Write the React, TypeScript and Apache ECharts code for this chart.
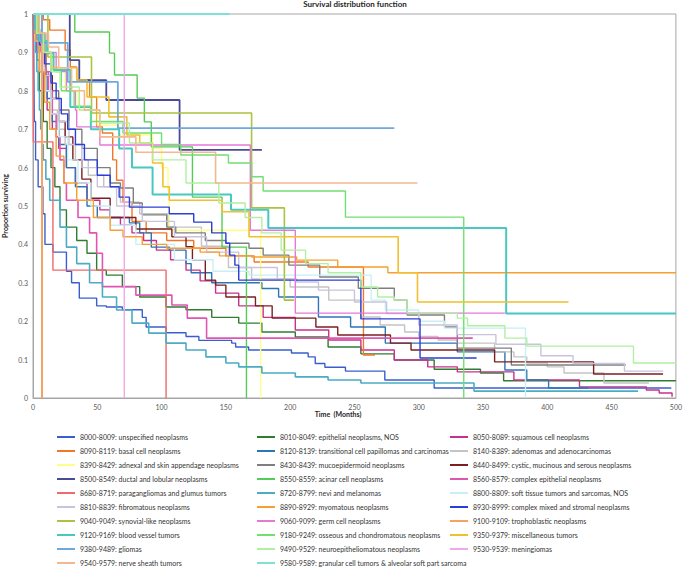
import React, { useEffect, useRef } from "react";
import * as echarts from "echarts";

const legendNames = [
  "8000-8009: unspecified neoplasms", "8010-8049: epithelial neoplasms, NOS", "8050-8089: squamous cell neoplasms",
  "8090-8119: basal cell neoplasms", "8120-8139: transitional cell papillomas and carcinomas", "8140-8389: adenomas and adenocarcinomas",
  "8390-8429: adnexal and skin appendage neoplasms", "8430-8439: mucoepidermoid neoplasms", "8440-8499: cystic, mucinous and serous neoplasms",
  "8500-8549: ductal and lobular neoplasms", "8550-8559: acinar cell neoplasms", "8560-8579: complex epithelial neoplasms",
  "8680-8719: paragangliomas and glumus tumors", "8720-8799: nevi and melanomas", "8800-8809: soft tissue tumors and sarcomas, NOS",
  "8810-8839: fibromatous neoplasms", "8890-8929: myomatous neoplasms", "8930-8999: complex mixed and stromal neoplasms",
  "9040-9049: synovial-like neoplasms", "9060-9099: germ cell neoplasms", "9100-9109: trophoblastic neoplasms",
  "9120-9169: blood vessel tumors", "9180-9249: osseous and chondromatous neoplasms", "9350-9379: miscellaneous tumors",
  "9380-9489: gliomas", "9490-9529: neuroepitheliomatous neoplasms", "9530-9539: meningiomas",
  "9540-9579: nerve sheath tumors", "9580-9589: granular cell tumors & alveolar soft part sarcoma",
];

const xTicks = [0, 50, 100, 150, 200, 250, 300, 350, 400, 450, 500];
const yTicks = [0, 0.1, 0.2, 0.3, 0.4, 0.5, 0.6, 0.7, 0.8, 0.9, 1];

// [time (months), proportion surviving] – Kaplan-Meier steps
const s8000 = [[0,1],[0.5,0.93],[1,0.72],[2,0.62],[4,0.55],[7.7,0.48],[9.3,0.40],[15.5,0.38],[26,0.33],[30,0.30],[36,0.26],[49.5,0.24],[57,0.237],[69.5,0.23],[85,0.21],[88,0.185],[103.5,0.17],[119,0.16],[129,0.15],[154.5,0.143],[157.6,0.133],[167.7,0.125],[201,0.117],[214,0.107],[219.5,0.09],[227,0.08],[243,0.07],[273.6,0.047],[312,0.026],[496,0.024]];
const s8010 = [[0,1],[1,0.95],[3,0.88],[5,0.8],[8,0.72],[11,0.65],[14,0.6],[17,0.55],[21,0.49],[26,0.445],[34,0.41],[42,0.377],[49.5,0.333],[57,0.32],[69.5,0.29],[83,0.263],[103.5,0.237],[119,0.23],[139,0.21],[160,0.195],[178,0.172],[204,0.159],[229.5,0.133],[255,0.115],[281,0.099],[312,0.075],[348,0.065],[366,0.045],[500,0.045]];
const s8050 = [[0,1],[1,0.95],[3,0.9],[5,0.85],[8,0.8],[11,0.75],[15,0.7],[20,0.65],[26,0.6],[33,0.56],[42,0.515],[52,0.49],[60,0.47],[68,0.45],[77,0.43],[86,0.41],[96,0.385],[107,0.36],[119,0.333],[130,0.305],[142,0.273],[160,0.24],[179,0.21],[204,0.177],[230,0.151],[255,0.125],[281,0.099],[307,0.081],[330,0.068],[374,0.047],[425,0.029],[477,0.021],[487,0.013],[497,0.003]];
const s8090 = [[0,1],[8,0.985],[13,0.958],[25,0.906],[29,0.862],[34,0.828],[44,0.784],[49.5,0.706],[54,0.69],[62,0.62],[65,0.567],[70,0.51],[77,0.46],[88,0.43],[104,0.41],[125,0.39],[150,0.37],[172,0.354],[214,0.341],[257,0.112],[266,0.112]];
const s8120 = [[0,1],[2,0.95],[4,0.9],[7,0.84],[11,0.78],[15,0.72],[20,0.66],[26,0.6],[33,0.55],[42,0.5],[50,0.47],[75,0.456],[83,0.43],[92,0.393],[106,0.385],[119,0.35],[123,0.326],[139,0.3],[178,0.285],[191,0.263],[222,0.211],[247,0.185],[274,0.143],[330,0.12],[367,0.073],[384,0.047],[401,0.026],[432,0.026]];
const s8140 = [[0,1],[2,0.95],[4,0.9],[7,0.85],[10,0.8],[14,0.75],[19,0.7],[25,0.66],[33,0.62],[43,0.58],[55,0.55],[68,0.51],[83,0.48],[105,0.445],[131,0.395],[152,0.34],[170,0.31],[200,0.289],[230,0.255],[255,0.211],[270,0.19],[289,0.172],[300,0.16],[315,0.151],[330,0.143],[359,0.12],[374,0.107],[384,0.091],[400,0.081],[413,0.065],[444,0.039],[479,0.039]];
const s8390 = [[0,1],[3,0.95],[8,0.9],[15,0.85],[25,0.8],[35,0.75],[50,0.71],[67,0.685],[93,0.65],[100,0.6],[105,0.54],[106,0.437],[177,0]];
const s8430 = [[0,1],[2,0.95],[5,0.9],[9,0.85],[14,0.8],[20,0.75],[28,0.7],[38,0.65],[50,0.6],[60,0.56],[68,0.547],[78,0.508],[85,0.477],[104,0.445],[111,0.43],[134,0.41],[150,0.403],[168,0.39],[179,0.372],[199,0.346],[223,0.315],[253,0.286],[281,0.255],[291,0.216],[320,0.185],[330,0.13],[372,0.086],[461,0.086]];
const s8440 = [[0,1],[2,0.95],[5,0.9],[10,0.84],[15,0.78],[20,0.72],[25,0.68],[31,0.62],[38,0.57],[45,0.52],[60,0.47],[80,0.44],[108,0.42],[119,0.394],[124,0.36],[134,0.307],[142,0.294],[150,0.263],[173,0.24],[186,0.208],[220,0.185],[237,0.164],[278,0.143],[294,0.125],[359,0.094],[436,0.0625],[490,0.0625]];
const s8500 = [[0,1],[28.6,0.88],[36,0.828],[57,0.776],[114,0.646],[178,0.646]];
const s8550 = [[0,1],[32.5,0.953],[59.5,0.898],[63.4,0.841],[81,0.781],[86.6,0.719],[92,0.654],[124,0.523],[147,0.393],[166,0]];
const s8560 = [[0,1],[3,0.95],[6,0.9],[9,0.85],[12,0.8],[15,0.74],[18,0.68],[21,0.62],[24,0.56],[26,0.515],[35,0.47],[44,0.43],[49.5,0.377],[54,0.29],[80,0.268],[108,0.242],[120,0.208],[135,0.156],[342,0.156]];
const s8680 = [[0,1],[0.3,0.667],[15.5,0.333],[103.5,0]];
const s8720 = [[0,1],[1,0.95],[2,0.9],[3,0.85],[4,0.8],[5,0.75],[6,0.7],[7,0.66],[8,0.62],[10,0.57],[13,0.515],[21,0.445],[26,0.393],[34,0.35],[44,0.3],[54,0.263],[65,0.229],[77,0.195],[90,0.169],[103.5,0.143],[119,0.125],[134.5,0.107],[150,0.091],[160,0.081],[178,0.065],[204,0.055],[229.5,0.047],[255,0.039],[343,0.018],[470.6,0.018]];
const s8800 = [[0,1],[2,0.93],[5,0.86],[9,0.8],[14,0.74],[20,0.68],[27,0.62],[35,0.56],[45,0.5],[60,0.45],[80,0.4],[110,0.36],[140,0.33],[168,0.32],[263,0.255],[274,0.229],[300,0.2],[320,0.182],[383,0]];
const s8810 = [[0,1],[2,0.95],[5,0.9],[9,0.84],[14,0.78],[20,0.72],[28,0.66],[38,0.6],[50,0.55],[65,0.5],[85,0.46],[110,0.42],[135,0.38],[160,0.34],[190,0.31],[205,0.302],[222,0.281],[250,0.25],[275,0.22],[300,0.19],[330,0.165],[360,0.14],[395,0.11],[420,0.09],[460,0.07],[490,0.07]];
const s8890 = [[0,1],[2,0.93],[5,0.85],[9,0.77],[13,0.7],[18,0.63],[24,0.56],[34,0.515],[47,0.47],[60,0.437],[70,0.42],[85,0.40],[104,0.39],[130,0.38],[145,0.37],[170,0.367],[205,0.359],[237,0.341],[276,0.326],[500,0.326]];
const s8930 = [[0,1],[2,0.96],[5,0.92],[9,0.87],[14,0.82],[18,0.78],[22,0.74],[27,0.7],[33,0.66],[40,0.62],[50,0.58],[60,0.55],[67,0.523],[75,0.497],[106,0.48],[125,0.458],[139,0.43],[150,0.403],[153,0.372],[157,0.346],[160,0.307],[255,0.206],[301,0.104],[345,0.104]];
const s9040 = [[0,1],[11.6,0.888],[45.5,0.742],[170,0.495],[195.5,0.255],[203,0.255]];
const s9060 = [[0,1],[4,0.95],[10,0.9],[18,0.85],[26,0.8],[33,0.75],[34,0.706],[52,0.659],[169,0.437],[204,0.221],[367,0.221]];
const s9100 = [[0,1],[7,0]];
const s9120 = [[0,1],[2,0.96],[5,0.93],[11,0.898],[16,0.854],[29,0.758],[45,0.7],[67,0.65],[77,0.6],[93,0.53],[154,0.49],[183,0.443],[368,0.22],[500,0.22]];
const s9180 = [[0,1],[4,0.95],[9,0.9],[14,0.85],[22,0.8],[32,0.76],[45,0.72],[70,0.69],[100,0.66],[115,0.633],[152,0.612],[170,0.576],[179,0.539],[243,0.471],[335,0]];
const s9350 = [[0,1],[3,0.95],[8,0.9],[14,0.86],[34,0.828],[42,0.784],[59,0.732],[73,0.685],[83,0.664],[93,0.612],[101,0.55],[106,0.515],[147,0.485],[168,0.42],[284,0.326],[299,0.25],[416.5,0.25]];
const s9380 = [[0,1],[7,0.925],[27,0.823],[66,0.703],[281,0.703]];
const s9490 = [[0,1],[3,0.95],[8,0.9],[14,0.85],[21,0.81],[36,0.75],[52,0.716],[75,0.664],[93,0.62],[119,0.56],[144.5,0.508],[165,0.47],[178,0.43],[193,0.385],[212,0.35],[229.5,0.326],[255,0.289],[268,0.263],[281,0.255],[291,0.221],[330,0.208],[338,0.188],[367,0.156],[384,0.135],[467,0.091],[500,0.091]];
const s9530 = [[0,1],[71,0]];
const s9540 = [[0,1],[5,0.95],[12,0.914],[20,0.86],[30,0.8],[40,0.75],[52,0.68],[80,0.64],[142,0.56],[299,0.56]];
const s9580 = [[0,1],[153,1]];

const seriesData = [s8000, s8010, s8050, s8090, s8120, s8140, s8390, s8430, s8440, s8500, s8550, s8560, s8680, s8720, s8800, s8810, s8890, s8930, s9040, s9060, s9100, s9120, s9180, s9350, s9380, s9490, s9530, s9540, s9580];

const colors = [
  "#3a5fcd", "#2e7d32", "#c8308c",
  "#f07828", "#2e75b6", "#c4c4c4",
  "#ffff88", "#7f7f7f", "#7b2020",
  "#4a4a96", "#55cc55", "#e055b0",
  "#f06a6a", "#4bacc6", "#c8f0f4",
  "#c8c4dc", "#f5a030", "#2a3ed8",
  "#a8c440", "#e878d8", "#f4a460",
  "#48c8c0", "#70e070", "#f0c030",
  "#6fa8dc", "#b0f0a0", "#f0a8e8",
  "#f4b890", "#7fe0d8",
];
const widths = [
  1.4, 1.4, 1.4,
  1.4, 1.4, 1.4,
  1.4, 1.4, 1.4,
  1.8, 1.4, 1.6,
  1.4, 1.6, 1.4,
  1.4, 1.4, 1.4,
  1.6, 1.4, 2,
  2, 1.4, 1.6,
  1.8, 1.4, 1.4,
  1.6, 2,
];

export default function App() {
  const ref = useRef<HTMLDivElement>(null);
  useEffect(() => {
    if (!ref.current) return;
    const chart = echarts.init(ref.current, null, { renderer: "svg" });
    const series = legendNames.map((name, i) => ({
      name,
      type: "line",
      step: "end",
      symbol: "none",
      showSymbol: false,
      data: seriesData[i],
      color: colors[i],
      lineStyle: { color: colors[i], width: widths[i] },
      itemStyle: { color: colors[i] },
      silent: true,
    }));
    const col = (k: number) => legendNames.filter((_, i) => i % 3 === k);
    const legendBase = {
      orient: "vertical",
      top: 432,
      height: 160,
      icon: "rect",
      itemWidth: 18,
      itemHeight: 2,
      itemGap: 4,
      padding: 0,
      selectedMode: false,
      textStyle: { fontSize: 7, lineHeight: 10, color: "#333333", fontFamily: "Lato" },
    };
    chart.setOption({
      animation: false,
      textStyle: { fontFamily: "Lato" },
      grid: {
        left: 33, top: 14, width: 647, height: 384,
        show: true, borderColor: "#a6a6a6", borderWidth: 1,
      },
      legend: [
        { ...legendBase, left: 57, data: col(0) },
        { ...legendBase, left: 257, data: col(1) },
        { ...legendBase, left: 450, data: col(2) },
      ],
      xAxis: {
        type: "value", min: xTicks[0], max: xTicks[xTicks.length - 1], interval: 50,
        axisLine: { show: true, lineStyle: { color: "#a6a6a6" } },
        axisTick: { show: false },
        splitLine: { show: false },
        axisLabel: { fontSize: 7, color: "#595959", margin: 5 },
      },
      yAxis: {
        type: "value", min: yTicks[0], max: yTicks[yTicks.length - 1], interval: 0.1,
        axisLine: { show: true, lineStyle: { color: "#a6a6a6" } },
        axisTick: { show: false },
        splitLine: { show: false },
        axisLabel: { fontSize: 7, color: "#595959", margin: 5 },
      },
      graphic: [
        { type: "text", x: 355, y: 4, style: { text: "Survival distribution function", align: "center", verticalAlign: "middle", font: "bold 8px Lato", fill: "#262626" } },
        { type: "text", x: 338, y: 414, style: { text: "Time  (Months)", align: "center", verticalAlign: "middle", font: "bold 7px Lato", fill: "#262626" } },
        { type: "text", x: 5, y: 206, rotation: Math.PI / 2, style: { text: "Proportion surviving", align: "center", verticalAlign: "middle", font: "bold 7px Lato", fill: "#262626" } },
      ],
      series,
    });
    return () => chart.dispose();
  }, []);
  return <div ref={ref} style={{ position: "fixed", left: 0, top: 0, width: 685, height: 568, background: "#fff" }} />;
}
